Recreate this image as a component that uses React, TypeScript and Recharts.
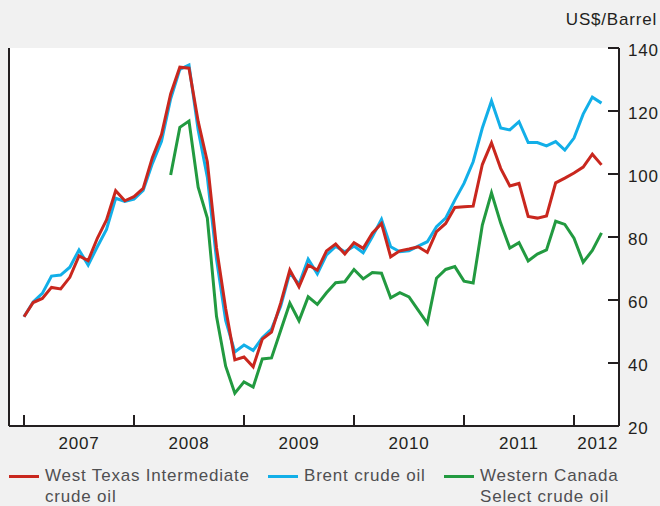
import React from 'react';
import { LineChart, Line, XAxis, YAxis, CartesianGrid } from 'recharts';

// monthly averages, Jan 2007 .. Apr 2012 (month index 0..63)
const wti = [
  54.7, 59.2, 60.5, 64.0, 63.5, 67.2, 74.0, 72.5, 79.6, 85.4, 94.7, 91.5,
  92.8, 95.4, 105.2, 112.5, 125.4, 133.9, 133.6, 116.7, 103.9, 76.6, 57.3, 41.0,
  41.9, 38.8, 47.6, 49.8, 59.0, 69.5, 64.2, 71.1, 69.5, 75.6, 77.8, 74.6,
  78.2, 76.4, 81.2, 84.3, 73.7, 75.6, 76.2, 76.9, 75.1, 81.7, 84.3, 89.4,
  89.6, 89.8, 103.0, 109.9, 101.8, 96.2, 97.0, 86.5, 86.0, 86.7, 97.2, 98.7,
  100.3, 102.2, 106.3, 102.9,
];

const brent = [
  54.7, 59.4, 62.1, 67.6, 67.9, 70.4, 75.9, 71.1, 76.9, 82.4, 92.3, 91.3,
  92.0, 94.8, 103.3, 110.4, 123.9, 133.2, 134.6, 114.0, 99.0, 73.0, 53.5, 43.5,
  45.7, 44.0, 48.0, 50.8, 58.0, 68.6, 65.0, 73.0, 68.3, 74.3, 77.0, 75.3,
  77.1, 75.0, 80.1, 85.6, 76.9, 75.3, 75.6, 77.1, 78.5, 83.3, 86.0, 91.7,
  97.0, 103.9, 114.6, 123.2, 114.6, 114.0, 116.6, 110.0, 110.0, 108.9, 110.3, 107.6,
  111.4, 119.0, 124.4, 122.5,
];

// Western Canada Select only shown from May 2008
const wcs: (number | null)[] = [
  null, null, null, null, null, null, null, null, null, null, null, null,
  null, null, null, null, 99.7, 114.8, 116.8, 95.8, 86.0, 54.8, 39.0, 30.4,
  34.0, 32.4, 41.3, 41.6, 50.3, 59.0, 53.4, 61.0, 58.6, 62.3, 65.5, 65.8,
  69.7, 66.7, 68.7, 68.5, 60.7, 62.3, 61.0, 56.8, 52.6, 66.9, 69.7, 70.6,
  66.0, 65.4, 83.8, 94.0, 84.4, 76.5, 78.2, 72.4, 74.6, 75.9, 85.0, 84.0,
  79.6, 72.0, 75.7, 81.3,
];

const yTicks = [20, 40, 60, 80, 100, 120, 140];
const yearStarts = [0, 12, 24, 36, 48, 60];
const yearLabels = ['2007', '2008', '2009', '2010', '2011', '2012'];
const yearLabelPos = [6, 18, 30, 42, 54, 62.6];

const RED = '#c9271e';
const BLUE = '#12afe8';
const GREEN = '#229a40';
const INK = '#231f20';
const FONT = '"Liberation Sans", Arial, sans-serif';

const data = wti.map((v, i) => ({ m: i, wti: v, brent: brent[i], wcs: wcs[i] }));

const legendItems = [
  { label: ['West Texas Intermediate', 'crude oil'], color: RED, left: 9 },
  { label: ['Brent crude oil'], color: BLUE, left: 268 },
  { label: ['Western Canada', 'Select crude oil'], color: GREEN, left: 444 },
];

const RightTick = (props: any) => {
  const { x, y, payload } = props;
  return (
    <g>
      <line x1={x - 11} y1={y} x2={x} y2={y} stroke={INK} strokeWidth={2} />
      <text x={x + 9} y={y + 8} fill={INK} fontSize={17} letterSpacing={0.8} fontFamily={FONT}>
        {payload.value}
      </text>
    </g>
  );
};

const LeftTick = (props: any) => {
  const { x, y } = props;
  return <line x1={x} y1={y} x2={x + 11} y2={y} stroke={INK} strokeWidth={2} />;
};

const BottomTick = (props: any) => {
  const { x, y, payload } = props;
  const idx = yearLabelPos.indexOf(payload.value);
  if (idx >= 0) {
    return (
      <text x={x} y={y + 23} textAnchor="middle" fill={INK} fontSize={17} letterSpacing={0.8} fontFamily={FONT}>
        {yearLabels[idx]}
      </text>
    );
  }
  return <line x1={x} y1={y} x2={x} y2={y - 11} stroke={INK} strokeWidth={2} />;
};

export default function App() {
  return (
    <div style={{ position: 'absolute', left: 0, top: 0, width: 660, height: 506, background: '#f1f1f1', fontFamily: FONT, overflow: 'hidden' }}>
      <div style={{ position: 'absolute', right: 3, top: 10, fontSize: 17, letterSpacing: 0.8, color: INK }}>
        US$/Barrel
      </div>
      <LineChart width={660} height={506} data={data} margin={{ top: 48, right: 0, left: 0, bottom: 50 }}>
        <CartesianGrid fill="#ffffff" stroke="none" horizontal={false} vertical={false} />
        <XAxis
          dataKey="m"
          type="number"
          domain={[-1.636, 64.909]}
          allowDataOverflow
          ticks={[...yearStarts, ...yearLabelPos]}
          interval={0}
          tickLine={false}
          tickSize={0}
          tickMargin={0}
          height={30}
          axisLine={{ stroke: INK, strokeWidth: 2 }}
          tick={<BottomTick />}
        />
        <YAxis
          yAxisId="left"
          orientation="left"
          width={9}
          domain={[20, 140]}
          ticks={yTicks}
          interval={0}
          tickLine={false}
          tickSize={0}
          tickMargin={0}
          axisLine={{ stroke: INK, strokeWidth: 2 }}
          tick={<LeftTick />}
        />
        <YAxis
          yAxisId="right"
          orientation="right"
          width={41}
          domain={[20, 140]}
          ticks={yTicks}
          interval={0}
          tickLine={false}
          tickSize={0}
          tickMargin={0}
          axisLine={{ stroke: INK, strokeWidth: 2 }}
          tick={<RightTick />}
        />
        <Line yAxisId="right" type="linear" dataKey="brent" stroke={BLUE} strokeWidth={3} dot={false} isAnimationActive={false} />
        <Line yAxisId="right" type="linear" dataKey="wti" stroke={RED} strokeWidth={3} dot={false} isAnimationActive={false} />
        <Line yAxisId="right" type="linear" dataKey="wcs" stroke={GREEN} strokeWidth={3} dot={false} connectNulls={false} isAnimationActive={false} />
      </LineChart>
      {legendItems.map((item) => (
        <div key={item.color} style={{ position: 'absolute', left: item.left, top: 465, display: 'flex', alignItems: 'flex-start' }}>
          <div style={{ width: 30, height: 3, background: item.color, marginTop: 10, marginRight: 6 }} />
          <div style={{ fontSize: 17, letterSpacing: 0.8, lineHeight: '21px', color: '#4f4f51' }}>
            {item.label.map((l) => (
              <div key={l}>{l}</div>
            ))}
          </div>
        </div>
      ))}
    </div>
  );
}
